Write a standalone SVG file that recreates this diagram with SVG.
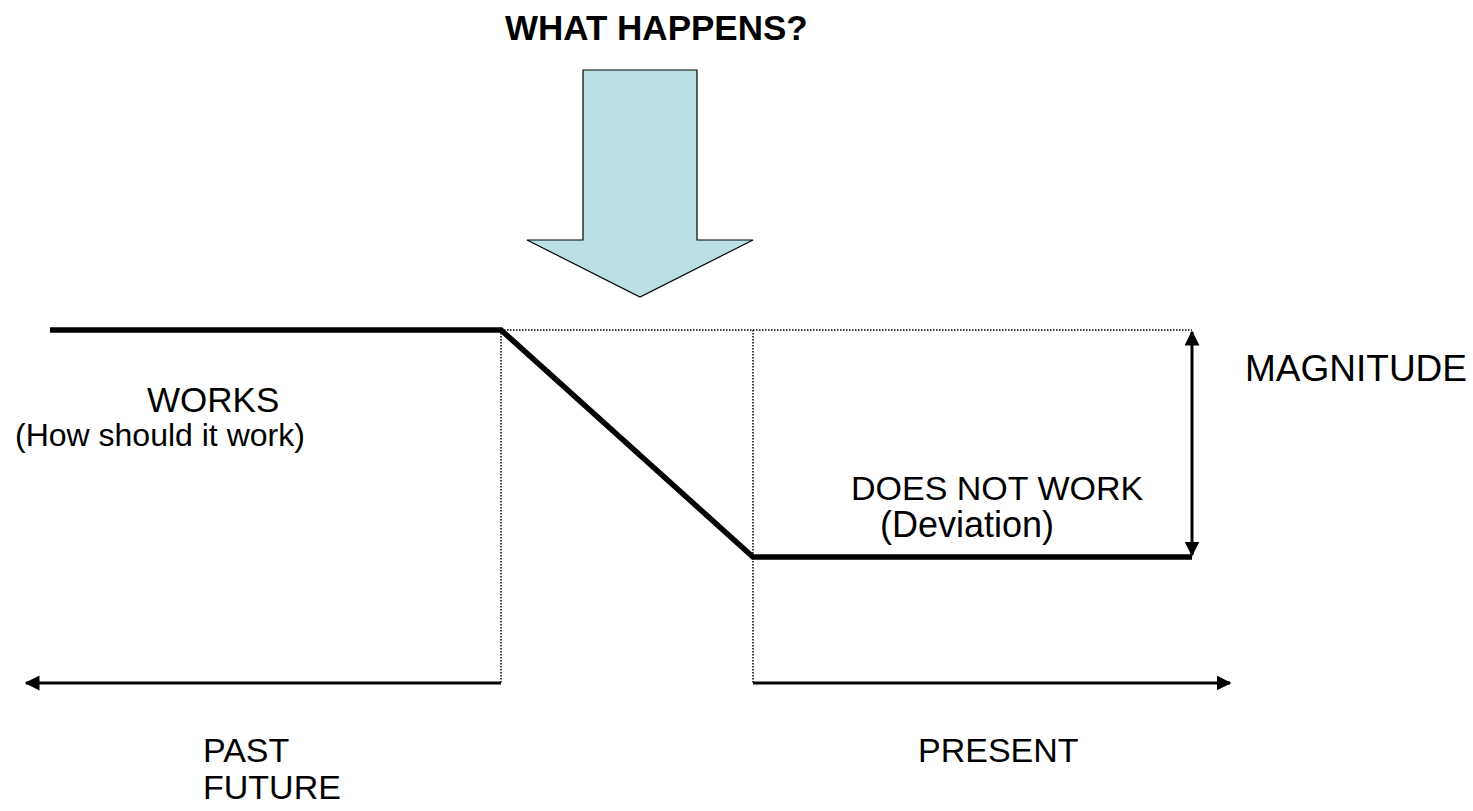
<svg xmlns="http://www.w3.org/2000/svg" width="1473" height="811" viewBox="0 0 1473 811">
  <style>
    .t { font-family: "Liberation Sans", Arial, sans-serif; fill: #000; }
    .dot { stroke: #000; stroke-width: 1.5; stroke-dasharray: 1.5 1.5; fill: none; }
    .thick { stroke: #000; stroke-width: 5.5; fill: none; stroke-linejoin: miter; }
    .axis { stroke: #000; stroke-width: 3; fill: none; }
  </style>
  <defs>
    <marker id="ah" viewBox="0 0 10 10" refX="9" refY="5" markerWidth="5" markerHeight="5" orient="auto-start-reverse" markerUnits="strokeWidth">
      <path d="M0,0 L10,5 L0,10 z" fill="#000"/>
    </marker>
  </defs>
  <rect width="1473" height="811" fill="#fff"/>

  <g id="title">
    <text class="t" x="505" y="40" font-size="35" font-weight="bold">WHAT HAPPENS?</text>
  </g>

  <g id="big-arrow">
    <path d="M583,70 L697,70 L697,240 L753,240 L640,297 L527,240 L583,240 Z" fill="#bbe0e3" stroke="#000" stroke-width="1.2"/>
  </g>

  <g id="connectors">
    <path class="dot" d="M501,330 L1192,330"/>
    <path class="dot" d="M501,330 L501,683"/>
    <path class="dot" d="M753,330 L753,683"/>
    <path class="thick" d="M50,330 L501,330 L753,557 L1192,557"/>
    <path class="axis" d="M501,683 L26,683" marker-end="url(#ah)"/>
    <path class="axis" d="M753,683 L1230,683" marker-end="url(#ah)"/>
    <path class="axis" d="M1192,555 L1192,332" marker-start="url(#ah)" marker-end="url(#ah)"/>
  </g>

  <g id="magnitude">
    <text class="t" x="1245" y="381" font-size="37">MAGNITUDE</text>
  </g>
  <g id="works">
    <text class="t" x="147" y="412" font-size="35">WORKS</text>
    <text class="t" x="15" y="446" font-size="32">(How should it work)</text>
  </g>
  <g id="does-not-work">
    <text class="t" x="851" y="500" font-size="34">DOES NOT WORK</text>
    <text class="t" x="880" y="537" font-size="36">(Deviation)</text>
  </g>
  <g id="past">
    <text class="t" x="203" y="762" font-size="34">PAST</text>
    <text class="t" x="203" y="799" font-size="34">FUTURE</text>
  </g>
  <g id="present">
    <text class="t" x="918" y="762" font-size="34">PRESENT</text>
  </g>
</svg>
